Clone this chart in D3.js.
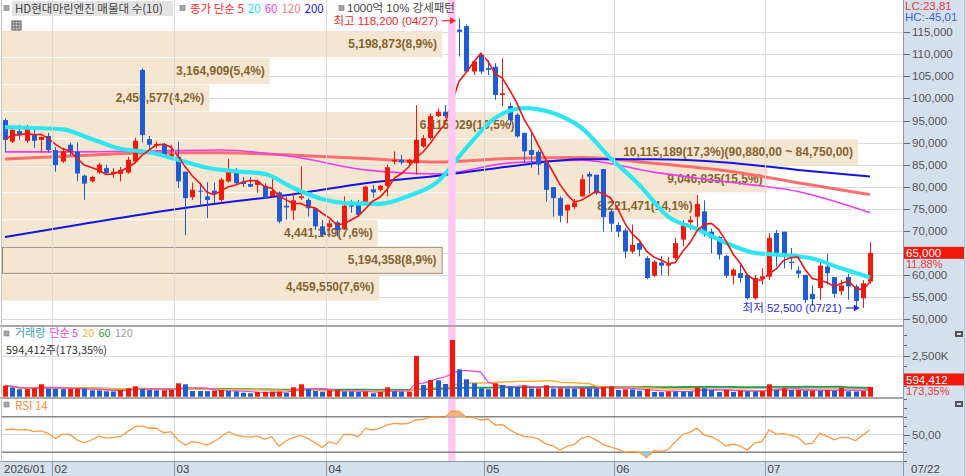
<!DOCTYPE html>
<html>
<head>
<meta charset="utf-8">
<script src="https://cdn.jsdelivr.net/npm/d3@7/dist/d3.min.js"></script>
<style>
  body { margin: 0; background: #fff; }
  svg { display: block; }
  text { font-family: "Noto Sans CJK KR", "Noto Sans", sans-serif; }
  .num { font-family: "Liberation Sans", "Noto Sans CJK KR", sans-serif; }
</style>
</head>
<body>
<div id="chart"></div>
<script>
// trading days shown on the chart
var dates = ["01/22","01/23","01/26","01/27","01/28","01/29","01/30",
  "02/02","02/03","02/04","02/05","02/06","02/09","02/10","02/11","02/12","02/13","02/19","02/20","02/23","02/24","02/25","02/26","02/27",
  "03/03","03/04","03/05","03/06","03/09","03/10","03/11","03/12","03/13","03/16","03/17","03/18","03/19","03/20","03/23","03/24","03/25","03/26","03/27","03/30","03/31",
  "04/01","04/02","04/03","04/06","04/07","04/08","04/09","04/10","04/13","04/14","04/15","04/16","04/17","04/20","04/21","04/22","04/23","04/24","04/27","04/28","04/29","04/30",
  "05/04","05/06","05/07","05/08","05/11","05/12","05/13","05/14","05/15","05/18","05/19","05/20","05/21","05/22","05/26","05/27","05/28","05/29",
  "06/01","06/02","06/04","06/05","06/08","06/09","06/10","06/11","06/12","06/15","06/16","06/17","06/18","06/19","06/22","06/23","06/24","06/25","06/26","06/29","06/30",
  "07/01","07/02","07/03","07/06","07/07","07/08","07/09","07/10","07/13","07/14","07/15","07/16","07/20","07/21","07/22"];

var open = [95100,90200,92600,90400,91700,90600,91500,
  88300,85700,89500,87900,82500,81200,83200,84200,82900,82900,83200,85700,106500,90800,89300,89700,86800,
  86800,83400,77600,79100,77800,79100,77000,81200,83800,81100,80600,80400,80200,77900,78700,75700,74600,77400,77000,75100,71000,
  70800,71900,70600,76100,76100,76100,79400,79300,80200,85700,86100,85400,85300,89100,91000,96000,97000,96600,115600,116400,106100,109900,
  106900,107200,100800,98300,96300,92200,88300,87900,85700,79900,77400,74600,75400,77800,82900,82700,84000,74400,
  71300,70100,65300,67200,63800,59800,62800,62100,63800,68000,71900,73200,74400,69800,68600,64300,59800,60400,60000,54700,59100,
  59600,69500,69800,63000,61000,60000,55700,57000,61900,59500,56300,59500,57400,54700,58500];

var high = [95500,93500,94000,94000,92900,91300,92200,
  89000,88800,90000,90000,82700,82500,85400,85000,84200,84500,86800,91100,106800,91500,90200,89900,89500,
  90200,83400,80900,80900,81000,80900,82000,86300,84200,82200,82200,81600,80800,82000,78900,77700,78600,84600,77400,75100,72500,
  72500,72300,77800,77000,77000,80200,80400,80400,85000,88000,87200,86300,98500,91700,96600,97700,98500,115800,118200,116800,108700,110300,
  108700,108000,109100,99000,96600,92200,92200,88300,86100,80000,77800,75900,77200,82700,83400,82700,84000,74800,
  72000,70500,71400,67600,64200,63300,64300,64000,68400,72400,73300,78100,76900,70500,68800,64500,61500,62300,60000,60000,61500,
  69500,70200,69800,66100,62000,60000,57600,62900,64800,59500,58900,60200,57800,58800,67400];

var low = [87900,89900,90600,89900,88800,87700,87700,
  83400,85400,87000,81200,77000,81000,82900,82700,82000,81200,82900,85400,90000,88000,88800,86600,86100,
  79700,69000,77000,75500,72900,76300,76300,80900,80400,79900,79900,78600,77200,77400,71700,72500,72500,77000,73200,70200,68700,
  70200,68700,70200,74100,73200,75700,77500,78900,77800,85000,85000,85000,82700,88800,90600,95800,95600,96300,109500,105800,105300,105500,
  105300,99700,98200,93900,91100,85400,84300,82600,76600,73200,71900,71700,74900,77700,78500,78100,69800,69800,
  68600,63800,64800,64200,59000,59500,59900,59800,63400,66500,70200,70600,68700,64900,63500,59300,57800,58200,54400,54400,57800,
  58800,61900,61500,61200,59300,53600,53000,54300,57800,54900,55400,54400,52700,52500,58000];

var close = [90600,92900,91700,93100,90400,91300,88300,
  84900,88000,87900,83000,80700,82200,85000,83100,83400,83800,86100,90400,91700,89500,89700,86800,87400,
  81200,77400,79300,78900,77000,78400,81600,84000,80800,80600,80000,81200,77400,79000,72100,75300,76900,77800,75100,71000,69100,
  71700,70200,75700,75500,73600,80000,78700,80200,84400,86100,85500,86100,90600,91000,96000,97000,96000,115400,115100,106100,108400,106100,
  106500,100800,101200,95100,91400,88000,87200,85000,79300,77400,73400,75900,76400,81700,82300,78500,73100,71600,
  69800,65300,66800,65700,59300,63000,62100,62500,67200,71700,72500,76100,69800,68300,64600,59800,61200,59300,54700,59300,59700,
  68400,64600,64200,62700,60300,54300,54500,62100,60400,55700,57600,57400,54100,58100,65000];

var volume = [671000,549000,451000,470000,512000,756000,488000,
  470000,460000,470000,500000,490000,390000,385000,329000,320000,409000,512000,634000,470000,409000,390000,395000,409000,
  817000,756000,348000,345000,340000,366000,409000,348000,329000,244000,207000,287000,290000,305000,310000,244000,573000,756000,451000,348000,305000,
  390000,400000,320000,320000,290000,300000,207000,287000,573000,329000,305000,310000,2483000,714000,1019000,1000000,775000,3459000,1671000,1061000,817000,512000,
  451000,817000,714000,610000,600000,671000,500000,512000,695000,500000,512000,505000,500000,512000,505000,500000,610000,620000,
  409000,451000,445000,366000,470000,287000,280000,329000,325000,320000,315000,549000,512000,409000,287000,409000,287000,366000,329000,325000,335000,
  756000,409000,512000,409000,415000,366000,370000,360000,409000,366000,549000,329000,325000,342897,594412];

// moving averages (price, won)
var ma20Dates = ["01/22","01/28","02/03","02/09","02/13","02/24","03/03","03/09","03/13","03/19","03/25","03/31","04/06","04/10","04/16","04/22",
  "04/28","05/06","05/12","05/18","05/22","05/29","06/05","06/11","06/17","06/23","06/29","07/03","07/09","07/15","07/22"];
var ma20 = [93500,93300,93000,90800,88600,87800,86100,84300,83500,82900,79700,77200,76200,76100,77900,81100,
  88800,95600,97800,96700,93300,86500,80400,73200,70400,67300,65000,64500,63700,61500,59400];
var maDates = ["01/22","02/05","02/24","03/11","03/25","04/08","04/22","05/08","05/22","06/09","06/23","07/07","07/22"];
var ma60  = [87900,87900,88100,88300,86800,83800,82900,85400,86000,83300,81100,78900,74100];
var ma120 = [86300,87000,87700,87700,87100,86400,85600,86400,86600,85300,83600,80900,78200];
var ma200 = [68600,71300,74000,76300,78300,80800,82500,84600,86200,86200,85500,83800,82300];

var rsi = [55.1,56.2,55.1,55.5,53.2,54.0,51.3,
  45.6,50.5,50.0,44.0,40.7,43.8,48.2,46.0,46.8,47.5,53.2,58.8,59.6,57.0,57.2,52.0,53.2,
  43.8,38.1,41.9,40.7,38.1,41.9,47.5,53.2,49.4,47.8,47.0,48.5,44.5,47.5,37.0,43.0,46.4,49.0,45.6,40.7,35.5,
  41.9,39.3,50.2,50.0,47.5,56.9,55.1,56.9,60.7,62.6,61.8,62.6,66.3,67.0,69.5,69.8,68.9,76.5,76.0,69.0,69.5,66.3,
  67.4,60.7,61.0,55.5,51.0,48.0,47.0,45.0,39.5,37.5,32.5,37.0,39.0,46.0,47.9,44.0,38.5,36.0,
  33.5,30.2,30.8,30.3,23.9,31.8,31.0,33.0,41.9,50.0,52.4,56.9,49.4,47.5,43.0,37.0,39.3,37.0,32.5,40.7,41.9,
  55.1,50.5,51.0,49.4,46.8,39.3,40.0,51.3,48.2,44.0,46.8,46.5,43.0,49.4,55.1];

// volume profile (매물대), top band first
var bandVolumes = [5198873,3164909,2450577,6115029,10115189,9046835,8221471,4441149,5194358,4459550];

var strongDays = ["04/24"];
var monthStarts = ["01/22","02/02","03/03","04/01","05/04","06/01","07/01"];
var monthLabels = ["2026/01","02","03","04","05","06","07"];
var priceTicks = [50000,55000,60000,65000,70000,75000,80000,85000,90000,95000,100000,105000,110000,115000];
var volTicks = [2500000];
var rsiTicks = [50];

var width = 966, height = 476, plotRight = 903;
var red = "#f0190c", blue = "#1f5bd3", axisBg = "#d5e0ed", grid = "#dadada";

var svg = d3.select("#chart").append("svg")
    .attr("width", width)
    .attr("height", height);

var x = d3.scalePoint().domain(dates).range([5, 870]);
var y = d3.scaleLinear().domain([50000, 115000]).range([319, 32.3]);
var yv = d3.scaleLinear().domain([0, 2500000]).range([396.7, 355.7]);
var yr = d3.scaleLinear().domain([30, 70]).range([452.3, 416.7]);

function px(d) { return Math.round(x(d)) + 0.5; }
function kr(v, n) {
    return d3.format(",." + n + "f")(v).replace("\u2212", "-").replace(/\.(\d+)$/, ",$1");
}
function rollMean(arr, n) {
    return arr.map(function (v, i) { return d3.mean(arr.slice(Math.max(0, i - n + 1), i + 1)); });
}
// a row of coloured words, each its own text, placed one after another
function legendRow(lx, ly, size, items, cls) {
    items.forEach(function (p) {
        var t = svg.append("text").attr("class", cls || null).attr("x", lx).attr("y", ly)
            .attr("font-size", size).attr("fill", p[1]).text(p[0]);
        lx += t.node().getComputedTextLength() + 4;
    });
}

// backgrounds
svg.append("rect").attr("x", plotRight).attr("y", 0).attr("width", width - plotRight).attr("height", height).attr("fill", axisBg);
svg.append("rect").attr("x", 0).attr("y", 462).attr("width", plotRight).attr("height", 14).attr("fill", axisBg);

svg.append("defs").append("clipPath").attr("id", "pc")
  .append("rect").attr("x", 2).attr("y", 0).attr("width", plotRight - 2).attr("height", 325);

var price = svg.append("g").attr("clip-path", "url(#pc)");

// horizontal price grid
price.selectAll(".hg").data(priceTicks).enter().append("line")
    .attr("x1", 2).attr("x2", plotRight)
    .attr("y1", function (d) { return Math.round(y(d)) + 0.5; })
    .attr("y2", function (d) { return Math.round(y(d)) + 0.5; })
    .attr("stroke", grid);

// volume profile bands
var maxC = d3.max(close), minC = d3.min(close);
var step = (maxC - minC) / bandVolumes.length;
var bandW = d3.scaleLinear().domain([0, d3.max(bandVolumes)]).range([0, 856]);
var bandTotal = d3.sum(bandVolumes);
var lastClose = close[close.length - 1];
var curBand = Math.min(bandVolumes.length - 1, Math.floor((maxC - lastClose) / step));
var maxBand = bandVolumes.indexOf(d3.max(bandVolumes));

var bands = bandVolumes.map(function (v, k) {
    return { v: v, k: k, hi: maxC - k * step, lo: maxC - (k + 1) * step };
});

price.selectAll(".band").data(bands).enter().append("rect")
    .attr("x", 2)
    .attr("y", function (d) { return y(d.hi) + 0.5; })
    .attr("width", function (d) { return bandW(d.v); })
    .attr("height", function (d) { return y(d.lo) - y(d.hi) - 1; })
    .attr("fill", "#f5e6d2");

price.append("rect")
    .attr("x", 2.5)
    .attr("y", y(bands[curBand].hi) + 0.5)
    .attr("width", bandW(bands[curBand].v))
    .attr("height", y(bands[curBand].lo) - y(bands[curBand].hi) - 1)
    .attr("fill", "none")
    .attr("stroke", "#9a8a74");

// month gridlines
var monthX = monthStarts.map(function (d, i) {
    var idx = dates.indexOf(d);
    return i === 0 ? 2 : Math.round((x(dates[idx - 1]) + x(d)) / 2) + 0.5;
});
svg.selectAll(".vg").data(monthX.slice(1)).enter().append("line")
    .attr("x1", function (d) { return d; }).attr("x2", function (d) { return d; })
    .attr("y1", 0).attr("y2", 462)
    .attr("stroke", grid);
svg.selectAll(".vga").data(monthX.slice(1)).enter().append("line")
    .attr("x1", function (d) { return d; }).attr("x2", function (d) { return d; })
    .attr("y1", 462).attr("y2", 476)
    .attr("stroke", "#8e9aab");

// strong pattern highlight
svg.selectAll(".hl").data(strongDays).enter().append("rect")
    .attr("x", function (d) { return x(d) - 3.7; })
    .attr("y", 0).attr("width", 7.4).attr("height", 461)
    .attr("fill", "#fcc8f3");

// band labels
price.selectAll(".bl").data(bands).enter().append("text")
    .attr("class", "num")
    .attr("x", function (d) { return 2 + bandW(d.v) - 5; })
    .attr("y", function (d) { return (y(d.hi) + y(d.lo)) / 2 + 4; })
    .attr("text-anchor", "end")
    .attr("font-size", 12)
    .attr("font-weight", "bold")
    .attr("fill", "#84642f")
    .text(function (d) {
        var s = d3.format(",")(d.v) + "(" + kr(d.v / bandTotal * 100, 1) + "%)";
        if (d.k === maxBand) s += "(" + kr(d.hi, 2) + " ~ " + kr(d.lo, 2) + ")";
        return s;
    });

// moving averages
var ma5 = rollMean(close, 5);
function sampled(ds, vs) { return ds.map(function (d, i) { return { d: d, v: vs[i] }; }); }
var smooth = d3.line().x(function (p) { return x(p.d); }).y(function (p) { return y(p.v); }).curve(d3.curveMonotoneX);

price.append("path").datum(sampled(maDates, ma120)).attr("d", smooth)
    .attr("fill", "none").attr("stroke", "#ff6f6f").attr("stroke-width", 3);
price.append("path").datum(sampled(maDates, ma60)).attr("d", smooth)
    .attr("fill", "none").attr("stroke", "#f03cf0").attr("stroke-width", 1.6);
price.append("path").datum(sampled(maDates, ma200)).attr("d", smooth)
    .attr("fill", "none").attr("stroke", "#1414e6").attr("stroke-width", 2);

// candles
var candles = price.selectAll(".c").data(dates).enter().append("g");
candles.append("line")
    .attr("x1", px).attr("x2", px)
    .attr("y1", function (d, i) { return y(high[i]); })
    .attr("y2", function (d, i) { return y(low[i]); })
    .attr("stroke", function (d, i) { return close[i] >= open[i] ? red : blue; });
candles.append("rect")
    .attr("x", function (d) { return Math.round(x(d)) - 2; })
    .attr("width", 5)
    .attr("y", function (d, i) { return y(Math.max(open[i], close[i])); })
    .attr("height", function (d, i) { return Math.max(1, Math.abs(y(open[i]) - y(close[i]))); })
    .attr("fill", function (d, i) { return close[i] >= open[i] ? red : blue; });

price.append("path").datum(sampled(ma20Dates, ma20)).attr("d", smooth)
    .attr("fill", "none").attr("stroke", "#2ee6f2").attr("stroke-width", 4.2);
price.append("path").datum(sampled(dates, ma5))
    .attr("d", d3.line().x(function (p) { return x(p.d); }).y(function (p) { return y(p.v); }))
    .attr("fill", "none").attr("stroke", "#f51414").attr("stroke-width", 1.6);

// highest / lowest marks
var hiIdx = high.indexOf(d3.max(high)), loIdx = low.indexOf(d3.min(low));
function mark(idx, val, label, color, dy) {
    var cx = x(dates[idx]), cy = y(val) + dy;
    svg.append("text")
        .attr("class", "num")
        .attr("x", cx - 21).attr("y", cy + 4.5)
        .attr("text-anchor", "end").attr("font-size", 11.5).attr("fill", color)
        .text(label + " " + d3.format(",")(val) + " (" + dates[idx] + ")");
    svg.append("line").attr("x1", cx - 17).attr("x2", cx - 8).attr("y1", cy).attr("y2", cy)
        .attr("stroke", color).attr("stroke-width", 1.2);
    svg.append("path").attr("d", "M" + (cx - 3) + "," + cy + "L" + (cx - 9) + "," + (cy - 3.5) + "L" + (cx - 9) + "," + (cy + 3.5) + "Z")
        .attr("fill", color);
}
mark(hiIdx, high[hiIdx], "최고", "#f02a2a", 2.5);
mark(loIdx, low[loIdx], "최저", "#2a2ae0", 0);

// header
function bullet(bx, by) {
    svg.append("rect").attr("x", bx).attr("y", by).attr("width", 5).attr("height", 5)
        .attr("fill", "#a5a5a5").attr("stroke", "#7d7d7d").attr("stroke-width", 0.6);
}
svg.append("rect").attr("x", 12).attr("y", 1).attr("width", 161).attr("height", 15).attr("fill", "#e3e3e3");
bullet(4, 5.5);
svg.append("text").attr("x", 15).attr("y", 12.5).attr("font-size", 11.5).attr("fill", "#444").text("HD현대마린엔진 매물대 수(10)");
bullet(180, 5.5);
legendRow(190, 12.5, 11.5, [["종가 단순 5", "#ff2a2a"], ["20", "#22dcec"], ["60", "#f03cf0"], ["120", "#ff7a7a"], ["200", "#2020ee"]]);
bullet(339, 5.5);
svg.append("text").attr("class", "num").attr("x", 347).attr("y", 12).attr("font-size", 11.5).attr("fill", "#444").text("1000억 10% 강세패턴");
var icon = svg.append("g").attr("transform", "translate(12,21)");
icon.append("rect").attr("width", 9).attr("height", 9).attr("fill", "#d0d0d0").attr("stroke", "#555");
[3, 6].forEach(function (t) {
    icon.append("line").attr("x1", t).attr("x2", t).attr("y1", 0).attr("y2", 9).attr("stroke", "#555").attr("stroke-width", 0.8);
    icon.append("line").attr("y1", t).attr("y2", t).attr("x1", 0).attr("x2", 9).attr("stroke", "#555").attr("stroke-width", 0.8);
});

// right price axis
var lc = (lastClose / d3.min(low) - 1) * 100, hc = (lastClose / d3.max(high) - 1) * 100;
svg.append("text").attr("class", "num").attr("x", 905).attr("y", 10).attr("font-size", 11.5).attr("fill", "#e53a3a").text("LC:" + kr(lc, 2));
svg.append("text").attr("class", "num").attr("x", 905).attr("y", 21).attr("font-size", 11.5).attr("fill", "#3763d6").text("HC:" + kr(hc, 2));
svg.selectAll(".pt").data(priceTicks).enter().append("line")
    .attr("x1", plotRight).attr("x2", plotRight + 7)
    .attr("y1", function (d) { return Math.round(y(d)) + 0.5; })
    .attr("y2", function (d) { return Math.round(y(d)) + 0.5; })
    .attr("stroke", "#666");
// tick labels hidden under the current price box are left out, as on the reference
svg.selectAll(".ptl").data(priceTicks.filter(function (t) { return Math.abs(y(t) - y(lastClose)) > 9; })).enter().append("text")
    .attr("class", "num")
    .attr("x", plotRight + 9).attr("y", function (d) { return y(d) + 4; })
    .attr("font-size", 11.5).attr("fill", "#555")
    .text(function (d) { return d3.format(",")(d); });

var prevClose = close[close.length - 2];
svg.append("rect").attr("x", 904).attr("y", y(lastClose) - 6).attr("width", 60).attr("height", 12).attr("fill", red);
svg.append("text").attr("class", "num").attr("x", 906).attr("y", y(lastClose) + 4.5).attr("font-size", 11.5).attr("fill", "#fff")
    .text(d3.format(",")(lastClose));
svg.append("text").attr("class", "num").attr("x", 906).attr("y", y(lastClose) + 15).attr("font-size", 11).attr("fill", "#e53a3a")
    .text(kr((lastClose / prevClose - 1) * 100, 2) + "%");

// volume panel
svg.selectAll(".vgl").data(volTicks).enter().append("line")
    .attr("x1", 2).attr("x2", plotRight)
    .attr("y1", function (d) { return Math.round(yv(d)) + 0.5; })
    .attr("y2", function (d) { return Math.round(yv(d)) + 0.5; })
    .attr("stroke", grid);

var vline = d3.line().x(function (p, i) { return x(dates[i]); }).y(function (p) { return yv(p); });
[[120, "#a8a8a8", 1.2], [60, "#2f9a4c", 1.8], [20, "#f7b23a", 1.5], [5, "#f046d4", 1.2]].forEach(function (m) {
    svg.append("path").datum(rollMean(volume, m[0])).attr("d", vline)
        .attr("fill", "none").attr("stroke", m[1]).attr("stroke-width", m[2]);
});
svg.selectAll(".vb").data(dates).enter().append("rect")
    .attr("x", function (d) { return Math.round(x(d)) - 2; })
    .attr("width", 5)
    .attr("y", function (d, i) { return yv(volume[i]); })
    .attr("height", function (d, i) { return yv(0) - yv(volume[i]); })
    .attr("fill", function (d, i) { return i === 0 || volume[i] > volume[i - 1] ? red : blue; });

bullet(4, 331);
legendRow(15, 337, 11, [["거래량", "#3aa4aa"], ["단순 5", "#f046d4"], ["20", "#f7b23a"], ["60", "#2f9a4c"], ["120", "#a0a0a0"]]);
var lastVol = volume[volume.length - 1], prevVol = volume[volume.length - 2];
svg.append("text").attr("x", 6).attr("y", 354).attr("font-size", 11).attr("fill", "#333")
    .text(d3.format(",")(lastVol) + "주(" + kr(lastVol / prevVol * 100, 2) + "%)");

d3.range(625000, 3750001, 625000).forEach(function (t) {
    var yy = Math.round(yv(t)) + 0.5;
    svg.append("line").attr("x1", plotRight).attr("x2", plotRight + (t % 2500000 === 0 ? 7 : 4))
        .attr("y1", yy).attr("y2", yy).attr("stroke", "#666");
});
svg.selectAll(".vtl").data(volTicks).enter().append("text")
    .attr("class", "num")
    .attr("x", plotRight + 9).attr("y", function (d) { return yv(d) + 4; })
    .attr("font-size", 11.5).attr("fill", "#555")
    .text(function (d) { return d3.format(",")(d / 1000) + "K"; });
svg.append("rect").attr("x", 904).attr("y", yv(lastVol) - 13.5).attr("width", 60).attr("height", 12).attr("fill", red);
svg.append("text").attr("class", "num").attr("x", 906).attr("y", yv(lastVol) - 3).attr("font-size", 11.5).attr("fill", "#fff")
    .text(d3.format(",")(lastVol));
svg.append("text").attr("class", "num").attr("x", 906).attr("y", yv(lastVol) + 8).attr("font-size", 11).attr("fill", "#e53a3a")
    .text(kr(lastVol / prevVol * 100, 2) + "%");

// RSI panel
svg.append("line").attr("x1", 2).attr("x2", plotRight).attr("y1", yr(50)).attr("y2", yr(50)).attr("stroke", grid);
[70, 30].forEach(function (t) {
    svg.append("line").attr("x1", 2).attr("x2", plotRight).attr("y1", yr(t)).attr("y2", yr(t))
        .attr("stroke", "#858585").attr("stroke-width", 1.5);
});
svg.append("path").datum(rsi)
    .attr("d", d3.area().x(function (p, i) { return x(dates[i]); }).y0(yr(70)).y1(function (p) { return yr(Math.max(70, p)); }))
    .attr("fill", "#f4b486");
svg.append("path").datum(rsi)
    .attr("d", d3.area().x(function (p, i) { return x(dates[i]); }).y0(yr(30)).y1(function (p) { return yr(Math.min(30, p)); }))
    .attr("fill", "#8fd0ea");
svg.append("path").datum(rsi)
    .attr("d", d3.line().x(function (p, i) { return x(dates[i]); }).y(function (p) { return yr(p); }))
    .attr("fill", "none").attr("stroke", "#ff9a44").attr("stroke-width", 1.3);
bullet(4, 402);
svg.append("text").attr("x", 15).attr("y", 410).attr("font-size", 11.5).attr("fill", "#ff8c3a").text("RSI 14");
[90, 80, 70, 60, 50, 40, 30, 20].forEach(function (t) {
    var yy = Math.round(yr(t)) + 0.5;
    svg.append("line").attr("x1", plotRight).attr("x2", plotRight + (t === 50 ? 7 : 4))
        .attr("y1", yy).attr("y2", yy).attr("stroke", "#666");
});
svg.selectAll(".rtl").data(rsiTicks).enter().append("text")
    .attr("class", "num")
    .attr("x", plotRight + 9).attr("y", function (d) { return yr(d) + 4; })
    .attr("font-size", 11.5).attr("fill", "#555")
    .text(function (d) { return kr(d, 2); });

// small panel buttons
[331, 401].forEach(function (by) {
    svg.append("rect").attr("x", 955).attr("y", by).attr("width", 8).attr("height", 6).attr("fill", "#555");
    svg.append("rect").attr("x", 957).attr("y", by + 2).attr("width", 4).attr("height", 2).attr("fill", "#ddd");
});

// panel frames
[326, 398].forEach(function (fy) {
    svg.append("line").attr("x1", 0).attr("x2", plotRight).attr("y1", fy).attr("y2", fy)
        .attr("stroke", "#a9a9a9").attr("stroke-width", 2);
});
svg.append("line").attr("x1", 0).attr("x2", plotRight).attr("y1", 461.5).attr("y2", 461.5).attr("stroke", "#8e9aab");
svg.append("line").attr("x1", 1.5).attr("x2", 1.5).attr("y1", 0).attr("y2", 462).attr("stroke", "#c4c4c4");
svg.append("line").attr("x1", plotRight + 0.5).attr("x2", plotRight + 0.5).attr("y1", 0).attr("y2", height).attr("stroke", "#8e9aab");
svg.append("line").attr("x1", 964.5).attr("x2", 964.5).attr("y1", 0).attr("y2", height).attr("stroke", "#b8c2d0");

// x axis labels
svg.selectAll(".xl").data(monthLabels).enter().append("text")
    .attr("class", "num")
    .attr("x", function (d, i) { return monthX[i] + 2; })
    .attr("y", 473)
    .attr("font-size", 11.5).attr("fill", "#444")
    .text(function (d) { return d; });
svg.append("text").attr("class", "num").attr("x", 911).attr("y", 473).attr("font-size", 11.5).attr("fill", "#444")
    .text(dates[dates.length - 1]);
</script>
</body>
</html>
